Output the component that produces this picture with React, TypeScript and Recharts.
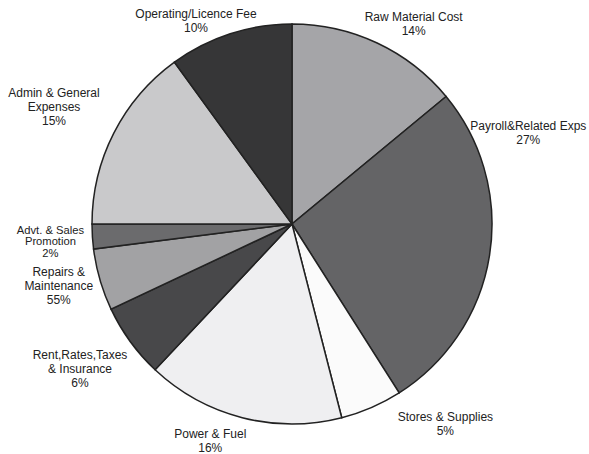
import React from 'react'
import { PieChart, Pie, Cell } from 'recharts'

const categories = [
  ['Raw Material Cost'],
  ['Payroll&Related Exps'],
  ['Stores & Supplies'],
  ['Power & Fuel'],
  ['Rent,Rates,Taxes', '& Insurance'],
  ['Repairs &', 'Maintenance'],
  ['Advt. & Sales', 'Promotion'],
  ['Admin & General', 'Expenses'],
  ['Operating/Licence Fee'],
]
const shares = [14, 27, 5, 16, 6, 5, 2, 15, 10]
// printed percentages (the source prints 55% for repairs)
const shareLabels = ['14%', '27%', '5%', '16%', '6%', '55%', '2%', '15%', '10%']
const fills = ['#a5a5a8', '#646466', '#fbfbfb', '#efeff1', '#48484a', '#a2a2a4', '#6b6b6d', '#c9c9cb', '#363637']

// label nudges from the radial anchor point
const nudges = [
  [28, -8], [19, -132], [66, -9], [-27, -3], [-34, 2], [-22, -13], [-22, -8], [-42, -31], [-28, -1],
]

const data = categories.map((c, i) => ({ name: c.join(' '), value: shares[i] }))

const RADIAN = Math.PI / 180

const renderLabel = (props: any) => {
  const { cx, cy, midAngle, outerRadius, index } = props
  const r = outerRadius + 20
  const x = cx + r * Math.cos(-midAngle * RADIAN) + nudges[index][0]
  const y = cy + r * Math.sin(-midAngle * RADIAN) + nudges[index][1]
  const lines = [...categories[index], shareLabels[index]]
  const small = index === 6
  return (
    <text
      x={x}
      y={y}
      textAnchor="middle"
      dominantBaseline="central"
      fill="#222"
      fontSize={small ? 11.2 : 12}
      fontFamily="'Liberation Sans', Arial, sans-serif"
    >
      {lines.map((l, k) => (
        <tspan key={k} x={x} dy={k === 0 ? 0 : small ? 11.5 : 14}>
          {l}
        </tspan>
      ))}
    </text>
  )
}

export default function App() {
  return (
    <div style={{ position: 'absolute', left: 0, top: 0, background: '#fff' }}>
      <PieChart width={589} height={454} margin={{ top: 0, right: 0, bottom: 0, left: 0 }}>
        <Pie
          data={data}
          dataKey="value"
          cx={292}
          cy={224}
          outerRadius={200}
          startAngle={90}
          endAngle={-270}
          stroke="#222"
          strokeWidth={1.5}
          label={renderLabel}
          labelLine={false}
          isAnimationActive={false}
        >
          {data.map((d, i) => (
            <Cell key={d.name} fill={fills[i]} />
          ))}
        </Pie>
      </PieChart>
    </div>
  )
}
